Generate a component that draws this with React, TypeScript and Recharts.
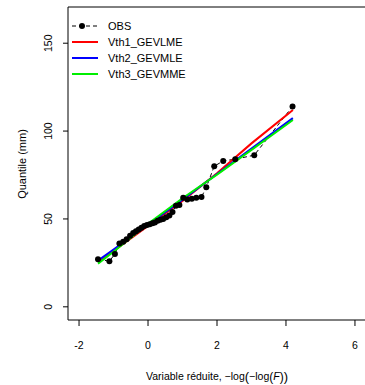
import { ComposedChart, Line, XAxis, YAxis, ReferenceLine } from "recharts";

// observed quantiles (reduced variable, mm)
const obsX = [
  -1.45, -1.12, -0.96, -0.83, -0.72, -0.62, -0.52, -0.43, -0.35, -0.27, -0.19, -0.11,
  -0.03, 0.05, 0.13, 0.2, 0.28, 0.36, 0.44, 0.53, 0.62, 0.71, 0.81, 0.91, 1.02, 1.14,
  1.27, 1.4, 1.55, 1.69, 1.92, 2.18, 2.53, 3.08, 4.19,
];
const obsY = [
  27, 26, 30, 36, 37, 38.5, 40.5, 42, 43, 44, 45, 46, 46.5, 47, 47.5, 48, 49, 49.5, 50,
  51, 52, 54, 57.5, 58, 62, 61, 61.5, 62, 62.5, 68, 80, 83, 84, 86.3, 114,
];

// fitted GEV curves
const fitX = [-1.45, -1, 0, 1, 2, 3, 4.2];
const lmeY = [25.8, 31.8, 46, 60.3, 76, 93, 112];
const mleY = [26.3, 32.6, 46.8, 61, 75.6, 90.1, 107.4];
const mmeY = [24.6, 31.3, 47.3, 61.8, 75.2, 89.3, 106.3];

const xTicks = [-2, 0, 2, 4, 6];
const yTicks = [0, 50, 100, 150];
const xDomain = [-2.32, 6.32];
const yDomain = [-7.5, 170.6];

const legendItems = [
  { name: "OBS", color: "#000000", obs: true },
  { name: "Vth1_GEVLME", color: "#ff0000" },
  { name: "Vth2_GEVMLE", color: "#0000ff" },
  { name: "Vth3_GEVMME", color: "#00ee00" },
];

const font = "'Liberation Sans', Arial, sans-serif";

const obsData = obsX.map((x, i) => ({ x, y: obsY[i] }));
const fitData = (ys: number[]) => fitX.map((x, i) => ({ x, y: ys[i] }));

const XTick = ({ x, payload }: any) => (
  <text x={x} y={349} textAnchor="middle" fontSize={10.5} fontFamily={font} fill="#000">
    {payload.value}
  </text>
);

const YTick = ({ y, payload }: any) => (
  <text
    x={52}
    y={y}
    transform={`rotate(-90, 52, ${y})`}
    textAnchor="middle"
    fontSize={10.5}
    fontFamily={font}
    fill="#000"
  >
    {payload.value}
  </text>
);

function Legend() {
  return (
    <svg
      width={160}
      height={80}
      style={{ position: "absolute", left: 68, top: 15, fontFamily: font }}
    >
      {legendItems.map((it, i) => {
        const cy = 11 + i * 16;
        return (
          <g key={it.name}>
            {it.obs ? (
              <>
                <line x1={4} x2={30} y1={cy} y2={cy} stroke="#000" strokeDasharray="4 3" />
                <circle cx={14} cy={cy} r={3} fill="#000" />
              </>
            ) : (
              <line x1={4} x2={30} y1={cy} y2={cy} stroke={it.color} strokeWidth={2} />
            )}
            <text x={40} y={cy + 4} fontSize={11} fill="#000">
              {it.name}
            </text>
          </g>
        );
      })}
    </svg>
  );
}

export default function App() {
  return (
    <div style={{ position: "absolute", left: 0, top: 0, width: 365, height: 385, background: "#fff" }}>
      <ComposedChart width={365} height={385} margin={{ top: 7, right: -1, bottom: 0, left: 0 }}>
        <XAxis
          type="number"
          dataKey="x"
          domain={xDomain}
          ticks={xTicks}
          allowDataOverflow
          height={65}
          tickSize={6}
          stroke="#000"
          tick={<XTick />}
          label={{
            content: () => (
              <text x={217} y={380} textAnchor="middle" fontSize={10.5} fontFamily={font} fill="#000">
                Variable réduite, −log
                <tspan fontSize={13} dy={1}>(</tspan>
                <tspan dy={-1}>−log</tspan>
                <tspan fontSize={12} dy={1}>(</tspan>
                <tspan fontStyle="italic" dy={-1}>F</tspan>
                <tspan fontSize={12} dy={1}>)</tspan>
                <tspan fontSize={13}>)</tspan>
              </text>
            ),
          }}
        />
        <YAxis
          type="number"
          dataKey="y"
          domain={yDomain}
          ticks={yTicks}
          allowDataOverflow
          width={68}
          tickSize={5}
          stroke="#000"
          tick={<YTick />}
          label={{
            content: () => (
              <text
                x={26}
                y={164}
                transform="rotate(-90, 26, 164)"
                textAnchor="middle"
                fontSize={11}
                fontFamily={font}
                fill="#000"
              >
                Quantile (mm)
              </text>
            ),
          }}
        />
        <ReferenceLine y={yDomain[1]} stroke="#000" />
        <ReferenceLine x={xDomain[1]} stroke="#000" />
        <Line
          data={obsData}
          dataKey="y"
          type="linear"
          stroke="#000"
          strokeWidth={1}
          strokeDasharray="4 3"
          dot={{ r: 3, fill: "#000", stroke: "#000", strokeWidth: 0 }}
          isAnimationActive={false}
        />
        <Line
          data={fitData(lmeY)}
          dataKey="y"
          type="linear"
          stroke="#ff0000"
          strokeWidth={2}
          dot={false}
          isAnimationActive={false}
        />
        <Line
          data={fitData(mleY)}
          dataKey="y"
          type="linear"
          stroke="#0000ff"
          strokeWidth={2}
          dot={false}
          isAnimationActive={false}
        />
        <Line
          data={fitData(mmeY)}
          dataKey="y"
          type="linear"
          stroke="#00ee00"
          strokeWidth={2}
          dot={false}
          isAnimationActive={false}
        />
      </ComposedChart>
      <Legend />
    </div>
  );
}
